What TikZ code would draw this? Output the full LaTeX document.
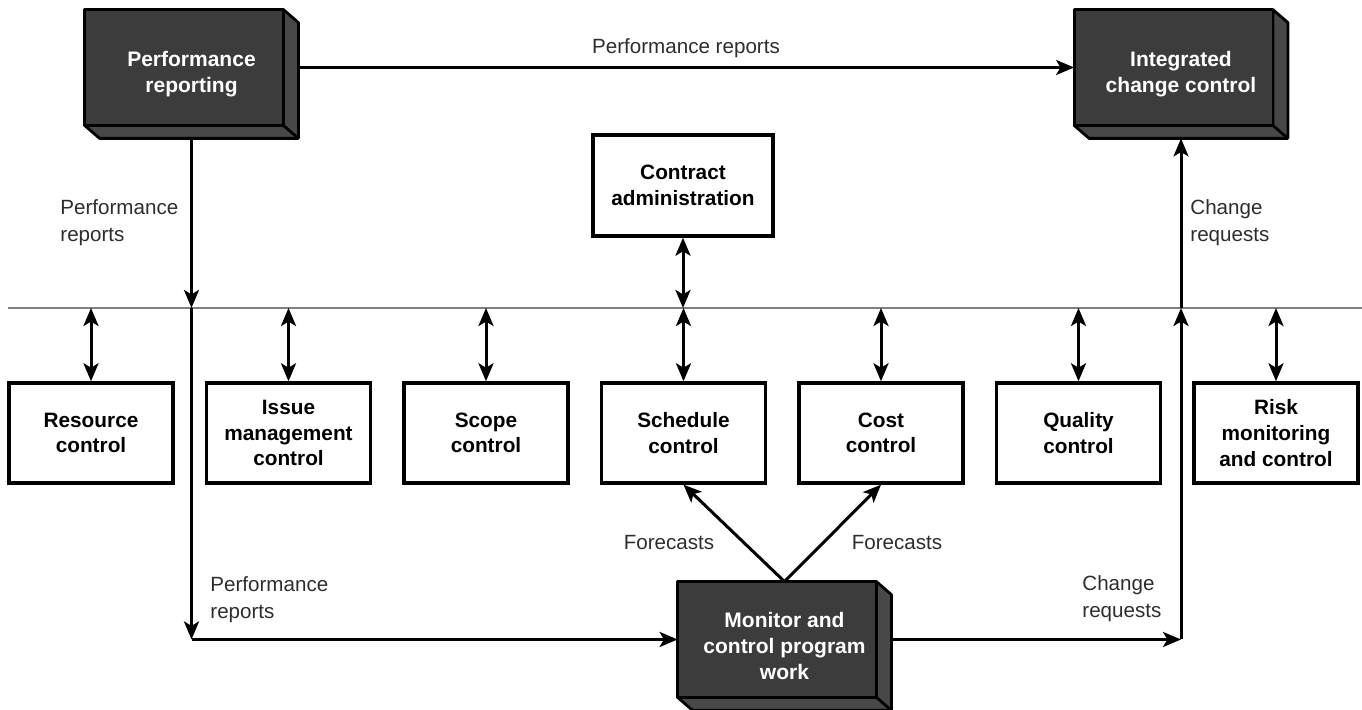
\documentclass[tikz,border=0pt]{standalone}
\usepackage{fontspec}
\setmainfont{Liberation Sans}
\usepackage{xcolor}
\usetikzlibrary{arrows.meta, calc}

\definecolor{frontgray}{RGB}{60,60,60}
\definecolor{sidegray}{RGB}{72,72,72}
\definecolor{labelgray}{RGB}{45,45,45}

\tikzset{
  ctrlbox/.style={draw, line width=1.7pt, minimum width=82pt, minimum height=50pt,
    align=center, inner sep=1pt, font=\bfseries\fontsize{10.4}{12.8}\selectfont},
  darkframe/.style={minimum width=106.5pt, minimum height=64pt, inner sep=0pt},
  darktext/.style={text=white, align=center, font=\bfseries\fontsize{10.5}{12.8}\selectfont},
  lbl/.style={align=left, inner sep=0pt, text=labelgray, font=\fontsize{10.3}{13.5}\selectfont},
  flow/.style={line width=1.5pt, -{Stealth[length=9pt, width=7.5pt, inset=2.2pt]}},
  both/.style={line width=1.5pt, {Stealth[length=9pt, width=7.5pt, inset=2.2pt]}-{Stealth[length=9pt, width=7.5pt, inset=2.2pt]}},
}

% 3D box: name, x, y, text
\newcommand{\darkbox}[4]{%
  \path (#2,#3) node[darkframe] (#1) {};
  \filldraw[fill=sidegray, line width=1.4pt, line join=round]
    ($(#1.north east)+(-7.5pt,0)$) -- ($(#1.north east)+(0,-6.5pt)$) -- (#1.south east)
    -- ($(#1.south west)+(7.5pt,0)$) -- ($(#1.south west)+(0,6.5pt)$)
    -- ($(#1.south east)+(-7.5pt,6.5pt)$) -- cycle;
  \draw[line width=1.4pt] ($(#1.south east)+(-7.5pt,6.5pt)$) -- (#1.south east);
  \filldraw[fill=frontgray, line width=1.4pt, line join=round]
    (#1.north west) rectangle ($(#1.south east)+(-7.5pt,6.5pt)$);
  \node[darktext] at (#1) {#4};
}

\begin{document}
\begin{tikzpicture}[x=0.5pt, y=-0.5pt]
\useasboundingbox (0,0) rectangle (1362,710);

% dark boxes
\darkbox{perf}{191.5}{74}{Performance\\reporting}
\darkbox{integ}{1181}{74}{Integrated\\change control}
\darkbox{mon}{784.5}{646}{Monitor and\\control program\\work}

% plain boxes
\node[ctrlbox, minimum width=90pt, minimum height=50.5pt] (contract) at (683,185.5) {Contract\\administration};
\node[ctrlbox] (resource) at (91,433)   {Resource\\control};
\node[ctrlbox] (issue)    at (288.5,433) {Issue\\management\\control};
\node[ctrlbox] (scope)    at (486,433)  {Scope\\control};
\node[ctrlbox] (schedule) at (683.5,433) {Schedule\\control};
\node[ctrlbox] (cost)     at (881,433)  {Cost\\control};
\node[ctrlbox] (quality)  at (1078.5,433) {Quality\\control};
\node[ctrlbox] (risk)     at (1276,433) {Risk\\monitoring\\and control};

% separator
\coordinate (sepW) at (8,308);
\coordinate (sepE) at (1362,308);
\draw[gray, line width=0.7pt] (sepW) -- (sepE);

\coordinate (sepL) at (perf.south |- sepW);
\coordinate (sepR) at (integ.south |- sepW);
\coordinate (cornerL) at ($(perf.south |- mon.west)+(0,3.25pt)$);
\coordinate (cornerR) at ($(integ.south |- mon.east)+(0,3.25pt)$);

% connectors
\draw[flow] ($(perf.east)+(0,3.25pt)$) -- ($(integ.west)+(0,3.25pt)$);
\draw[flow] (perf.south) -- (sepL);
\draw[flow] (sepL) -- (cornerL);
\draw[flow] (cornerL) -- ($(mon.west)+(0,3.25pt)$);
\draw[flow] ($(mon.east)+(0,3.25pt)$) -- (cornerR);
\draw[flow] (cornerR) -- (sepR);
\draw[flow] (sepR) -- (integ.south);
\draw[flow] (mon.north) -- (schedule.south);
\draw[flow] (mon.north) -- (cost.south);
\draw[both] (contract.south) -- (contract.south |- sepW);
\foreach \b in {resource,issue,scope,schedule,cost,quality,risk}
  \draw[both] (\b.north |- sepW) -- (\b.north);

% labels
\node[lbl] (lblPerfTop) at (686,48) {Performance reports};
\node[lbl, anchor=west] (lblPerfL) at (60,223) {Performance\\reports};
\node[lbl, anchor=west] (lblChgR) at (1190,223) {Change\\requests};
\node[lbl] (lblFcL) at (669,543) {Forecasts};
\node[lbl] (lblFcR) at (897,543) {Forecasts};
\node[lbl, anchor=west] (lblPerfB) at (210,600) {Performance\\reports};
\node[lbl, anchor=west] (lblChgB) at (1082,599) {Change\\requests};
\end{tikzpicture}
\end{document}
